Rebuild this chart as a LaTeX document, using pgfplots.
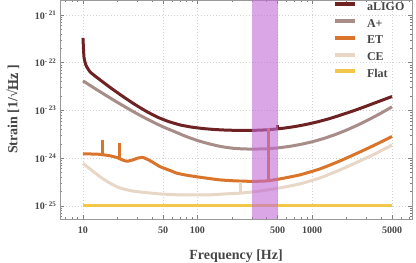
\documentclass[border=0pt]{standalone}
\usepackage{pgfplots}
\pgfplotsset{compat=1.18}
\usepackage{fontspec}
\setmainfont{Liberation Serif}
\definecolor{cLIGO}{RGB}{110,34,36}
\definecolor{cAplus}{RGB}{168,140,135}
\definecolor{cET}{RGB}{217,116,42}
\definecolor{cCE}{RGB}{232,214,198}
\definecolor{cFlat}{RGB}{242,200,75}
\definecolor{cBand}{RGB}{193,107,213}
\definecolor{ctext}{RGB}{70,70,70}
\newcommand{\sqrtHz}{{\setbox0\hbox{√}\setbox2\hbox{Hz}\box0\kern-0.6bp\rlap{\rule[\dimexpr\ht0-0.8bp\relax]{\dimexpr\wd2+0.5bp\relax}{0.8bp}}\box2}}
\begin{document}
\begin{tikzpicture}
\path[use as bounding box] (0,0) rectangle (416bp,263bp);
\begin{axis}[
  at={(60bp,44bp)}, anchor=south west,
  scale only axis, width=352bp, height=219bp,
  xmode=log, ymode=log,
  xmin=6.3, xmax=7470, ymin=5.3e-26, ymax=2.06e-21,
  xtick={10,50,100,500,1000,5000},
  xticklabels={10,50,100,500,1000,5000},
  minor xtick={6,7,8,9,20,30,40,60,70,80,90,200,300,400,600,700,800,900,2000,3000,4000,6000,7000},
  ytick={1e-25,1e-24,1e-23,1e-22,1e-21},
  yticklabels={10\textsuperscript{- 25},10\textsuperscript{- 24},10\textsuperscript{- 23},10\textsuperscript{- 22},10\textsuperscript{- 21}},
  minor ytick={6e-26,7e-26,8e-26,9e-26,2e-25,3e-25,4e-25,5e-25,6e-25,7e-25,8e-25,9e-25,2e-24,3e-24,4e-24,5e-24,6e-24,7e-24,8e-24,9e-24,2e-23,3e-23,4e-23,5e-23,6e-23,7e-23,8e-23,9e-23,2e-22,3e-22,4e-22,5e-22,6e-22,7e-22,8e-22,9e-22,2e-21},
  tick align=inside,
  major tick length=4bp, minor tick length=2.2bp,
  tick style={gray, line width=0.5bp},
  axis line style={gray!80, line width=0.6bp},
  grid=major,
  major grid style={gray!35, line width=0.5bp, dash pattern=on 1bp off 2bp},
  tick label style={font=\fontsize{10bp}{12bp}\selectfont\bfseries, text=ctext},
  xticklabel style={yshift=-4.5bp},
  xlabel={Frequency [Hz]},
  ylabel={Strain [1/\sqrtHz\ ]},
  label style={font=\fontsize{14bp}{16bp}\selectfont\bfseries, text=ctext},
  xlabel style={at={(axis description cs:0.5,-0.187)}, anchor=base},
  ylabel style={at={(axis description cs:-0.134,0.5)}, anchor=center, inner sep=0.5bp},
  legend cell align=left,
  legend image code/.code={\draw[line width=4bp] (0bp,3.5bp) -- (20bp,3.5bp);},
  legend style={at={(0.7756,0.991)}, anchor=north west, draw=none, fill=none,
    inner sep=0bp, outer sep=0bp, row sep=4.7bp,
    font=\fontsize{12bp}{14bp}\selectfont\bfseries, text=ctext,
    nodes={inner sep=0bp, text height=8.5bp, text depth=3.5bp},
    /tikz/every odd column/.append style={column sep=10bp}},
  every axis plot/.append style={line width=3bp, line join=round},
]
\addplot[cLIGO, smooth, tension=0.3] coordinates {
(10,3.31e-22) (10.2,1.32e-22) (10.6,8.9e-23) (11.5,6.46e-23) (12.6,5.37e-23)
(14.1,4.37e-23) (17.78,2.88e-23) (22.39,1.95e-23) (28.18,1.35e-23) (35.48,9.66e-24)
(44.67,7.24e-24) (56.23,5.82e-24) (70.79,4.95e-24) (89.13,4.47e-24) (112.2,4.17e-24)
(141.3,3.98e-24) (177.8,3.87e-24) (223.9,3.82e-24) (281.8,3.82e-24) (354.8,3.86e-24)
(446.7,4.0e-24) (562.3,4.24e-24) (707.9,4.59e-24) (891.3,5.09e-24) (1122,5.78e-24)
(1413,6.71e-24) (1778,7.98e-24) (2239,9.59e-24) (2818,1.17e-23) (3548,1.44e-23)
(4467,1.77e-23) (5000,1.96e-23)};
\addlegendentry{aLIGO}
\addplot[cAplus, smooth, tension=0.3] coordinates {
(10,4.17e-23) (12.59,2.92e-23) (15.85,2.07e-23) (19.95,1.48e-23) (25.12,1.07e-23)
(31.62,7.85e-24) (39.81,5.89e-24) (50.12,4.52e-24) (63.1,3.59e-24) (79.43,2.85e-24)
(100,2.34e-24) (125.9,2.0e-24) (158.5,1.76e-24) (199.5,1.62e-24) (251.2,1.56e-24)
(316.2,1.55e-24) (398.1,1.57e-24) (501.2,1.64e-24) (631,1.76e-24) (794.3,1.94e-24)
(1000,2.2e-24) (1259,2.57e-24) (1585,3.10e-24) (1995,3.86e-24) (2512,4.94e-24)
(3162,6.49e-24) (3981,8.71e-24) (5000,1.19e-23)};
\addlegendentry{A+}
\addplot[cET, smooth, tension=0.3] coordinates {
(10,1.23e-24) (12,1.22e-24) (14.1,1.2e-24) (17.2,1.12e-24) (19.8,1.03e-24)
(22,9.2e-25) (24.2,8.6e-25) (27.3,9.2e-25) (30,1.0e-24) (33,1.04e-24)
(36,9.6e-25) (40,8.4e-25) (47,6.65e-25) (57,5.56e-25) (66,4.84e-25)
(80,4.4e-25) (105,3.98e-25) (157,3.5e-25) (220,3.33e-25) (305,3.26e-25)
(400,3.33e-25) (525,3.67e-25) (785,4.46e-25) (1175,5.96e-25) (1758,8.75e-25)
(2625,1.35e-24) (3622,1.94e-24) (5000,2.85e-24)};
\addlegendentry{ET}
\addplot[cCE, smooth, tension=0.3] coordinates {
(10,7.76e-25) (12,5.5e-25) (14.1,4.07e-25) (16.8,3.1e-25) (19.8,2.51e-25)
(23,2.23e-25) (27.3,2.04e-25) (35,1.9e-25) (46.9,1.78e-25) (70,1.7e-25)
(128,1.7e-25) (174,1.78e-25) (239,1.85e-25) (350,2.04e-25) (525,2.38e-25)
(785,2.89e-25) (1175,3.85e-25) (1758,5.68e-25) (2625,8.75e-25) (3622,1.26e-24)
(5000,1.89e-24)};
\addlegendentry{CE}
\addplot[cFlat] coordinates {(10,1e-25) (5000,1e-25)};
\addlegendentry{Flat}
% narrow resonances
\addplot[cLIGO, forget plot] coordinates {(500,4.1e-24) (500,4.9e-24)};
\addplot[cET, forget plot] coordinates {(14.9,1.2e-24) (14.9,2.35e-24)};
\addplot[cET, forget plot] coordinates {(21.0,1.0e-24) (21.0,2.06e-24)};
\addplot[cET, forget plot] coordinates {(421,3.35e-25) (421,4.3e-24)};
\addplot[cCE, forget plot] coordinates {(239,1.85e-25) (239,3.18e-25)};
\addplot[draw=none, fill=cBand, fill opacity=0.6, forget plot] coordinates {
(300,5.3e-26) (300,2.06e-21) (500,2.06e-21) (500,5.3e-26)} -- cycle;
\end{axis}
\end{tikzpicture}
\end{document}
